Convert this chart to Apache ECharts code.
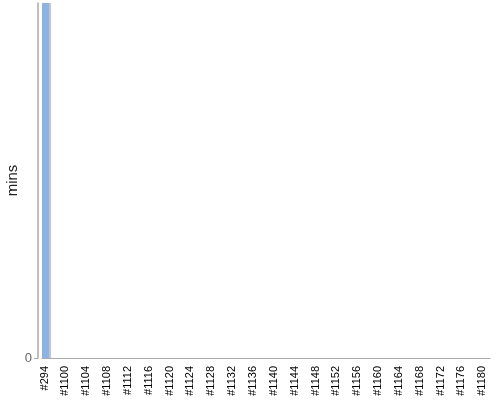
<!DOCTYPE html>
<html>
<head>
<meta charset="utf-8">
<script src="https://cdn.jsdelivr.net/npm/echarts@6/dist/echarts.min.js"></script>
<style>
    html, body { margin: 0; padding: 0; background: #fff; }
    #chart { width: 500px; height: 400px; }
</style>
</head>
<body>
<div id="chart"></div>
<script>
// 构建编号
var buildIds = [
    '#294', '#1097', '#1098', '#1099',
    '#1100', '#1101', '#1102', '#1103', '#1104', '#1105', '#1106', '#1107', '#1108', '#1109',
    '#1110', '#1111', '#1112', '#1113', '#1114', '#1115', '#1116', '#1117', '#1118', '#1119',
    '#1120', '#1121', '#1122', '#1123', '#1124', '#1125', '#1126', '#1127', '#1128', '#1129',
    '#1130', '#1131', '#1132', '#1133', '#1134', '#1135', '#1136', '#1137', '#1138', '#1139',
    '#1140', '#1141', '#1142', '#1143', '#1144', '#1145', '#1146', '#1147', '#1148', '#1149',
    '#1150', '#1151', '#1152', '#1153', '#1154', '#1155', '#1156', '#1157', '#1158', '#1159',
    '#1160', '#1161', '#1162', '#1163', '#1164', '#1165', '#1166', '#1167', '#1168', '#1169',
    '#1170', '#1171', '#1172', '#1173', '#1174', '#1175', '#1176', '#1177', '#1178', '#1179',
    '#1180', '#1181'
];

// 耗时(分钟)：第一个很长，其余几乎为 0
var buildMins = [
    1200, 0, 0, 0,
    0, 0, 0, 0, 0, 0, 0, 0, 0, 0,
    0, 0, 0, 0, 0, 0, 0, 0, 0, 0,
    0, 0, 0, 0, 0, 0, 0, 0, 0, 0,
    0, 0, 0, 0, 0, 0, 0, 0, 0, 0,
    0, 0, 0, 0, 0, 0, 0, 0, 0, 0,
    0, 0, 0, 0, 0, 0, 0, 0, 0, 0,
    0, 0, 0, 0, 0, 0, 0, 0, 0, 0,
    0, 0, 0, 0, 0, 0, 0, 0, 0, 0,
    0, 0
];

// y 轴刻度
var yTicks = [0, 1200];

(function () {
    let myChart = echarts.init(document.getElementById('chart'))
    let option = {
        animation: false,
        textStyle: { fontFamily: 'Liberation Sans, Arial, sans-serif' },
        grid: {
            left: 42,
            right: 10,
            top: 3,
            bottom: 42,
            outerBoundsMode: 'none',
            containLabel: false
        },
        xAxis: {
            type: 'category',
            data: buildIds,
            offset: 4,
            axisLine: { lineStyle: { color: '#aaa', width: 1 } },
            axisTick: { interval: 0, length: 3, lineStyle: { color: '#aaa' } },
            axisLabel: {
                interval: 3,
                rotate: 90,
                color: '#000',
                fontSize: 11,
                margin: 4
            }
        },
        yAxis: {
            type: 'value',
            min: yTicks[0],
            max: yTicks[1],
            interval: yTicks[1],
            offset: 4,
            name: 'mins',
            nameLocation: 'middle',
            nameRotate: 90,
            nameGap: 18,
            nameMoveOverlap: false,
            nameTextStyle: { color: '#222', fontSize: 15 },
            axisLine: { show: true, lineStyle: { color: '#aaa', width: 1.5 } },
            axisTick: { show: true, length: 4, lineStyle: { color: '#aaa' } },
            axisLabel: { showMaxLabel: false, color: '#666', fontSize: 13, margin: 6 },
            splitLine: { show: false }
        },
        series: [{
            type: 'bar',
            data: buildMins,
            barWidth: 9,
            itemStyle: {
                color: '#8db3e2',
                shadowColor: '#c8c8c8',
                shadowOffsetX: 2,
                shadowBlur: 0
            }
        }]
    }
    myChart.setOption(option)
})()
</script>
</body>
</html>
